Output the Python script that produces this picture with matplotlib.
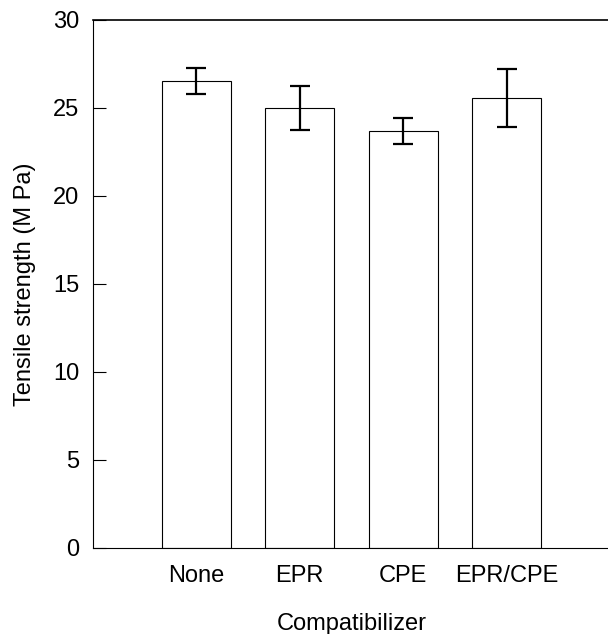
import numpy as np
import matplotlib.pyplot as plt

plt.rcParams['font.family'] = ['Liberation Sans', 'DejaVu Sans']

# values
compatibilizers = ['None', 'EPR', 'CPE', 'EPR/CPE']
strength = [26.55, 25.0, 23.7, 25.55]
strength_err = [0.75, 1.23, 0.76, 1.65]

fig = plt.figure(figsize=(6.08, 6.34), dpi=100)
ax = fig.add_axes([93 / 608, 86 / 634, 517 / 608, 528 / 634])

x = np.arange(len(compatibilizers))
ax.bar(x, strength, width=0.667, color='white', edgecolor='black', linewidth=0.8)
ax.errorbar(x, strength, yerr=strength_err, fmt='none', ecolor='black',
            elinewidth=1.6, capsize=7.5, capthick=1.6)

ax.set_xlim(-1, 4)
ax.set_ylim(0, 30)
ax.set_yticks([0, 5, 10, 15, 20, 25, 30])
ax.set_xticks(x)
ax.set_xticklabels(compatibilizers)
ax.tick_params(axis='y', direction='in', length=9.5, width=0.8, pad=10, labelsize=17)
ax.tick_params(axis='x', length=0, pad=12, labelsize=17)

ax.spines['right'].set_visible(False)
for s in ['left', 'bottom']:
    ax.spines[s].set_linewidth(0.8)
ax.spines['top'].set_linewidth(1.2)

ax.set_xlabel('Compatibilizer', fontsize=17, labelpad=19)
ax.set_ylabel('Tensile strength (M Pa)', fontsize=17, labelpad=12)

fig.savefig('out.png', dpi=100)
